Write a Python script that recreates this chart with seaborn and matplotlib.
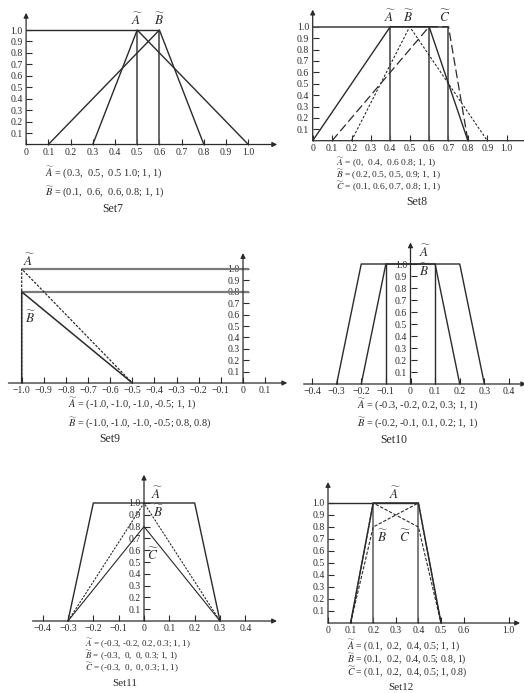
import numpy as np
import matplotlib
matplotlib.use("Agg")
import matplotlib.pyplot as plt
import seaborn as sns

# ---- trapezoidal fuzzy numbers (a1, a2, a3, a4) and heights (h_left, h_right) ----
set7_A, set7_A_h = [0.3, 0.5, 0.5, 1.0], [1.0, 1.0]
set7_B, set7_B_h = [0.1, 0.6, 0.6, 0.8], [1.0, 1.0]

set8_A, set8_A_h = [0.0, 0.4, 0.6, 0.8], [1.0, 1.0]
set8_B, set8_B_h = [0.2, 0.5, 0.5, 0.9], [1.0, 1.0]
set8_C, set8_C_h = [0.1, 0.6, 0.7, 0.8], [1.0, 1.0]

set9_A, set9_A_h = [-1.0, -1.0, -1.0, -0.5], [1.0, 1.0]
set9_B, set9_B_h = [-1.0, -1.0, -1.0, -0.5], [0.8, 0.8]

set10_A, set10_A_h = [-0.3, -0.2, 0.2, 0.3], [1.0, 1.0]
set10_B, set10_B_h = [-0.2, -0.1, 0.1, 0.2], [1.0, 1.0]

set11_A, set11_A_h = [-0.3, -0.2, 0.2, 0.3], [1.0, 1.0]
set11_B, set11_B_h = [-0.3, 0.0, 0.0, 0.3], [1.0, 1.0]
set11_C, set11_C_h = [-0.3, 0.0, 0.0, 0.3], [0.8, 0.8]

set12_A, set12_A_h = [0.1, 0.2, 0.4, 0.5], [1.0, 1.0]
set12_B, set12_B_h = [0.1, 0.2, 0.4, 0.5], [0.8, 1.0]
set12_C, set12_C_h = [0.1, 0.2, 0.4, 0.5], [1.0, 0.8]

# ---- tick values and labels ----
y_ticks = [0.1, 0.2, 0.3, 0.4, 0.5, 0.6, 0.7, 0.8, 0.9, 1.0]
y_labels = ["0.1", "0.2", "0.3", "0.4", "0.5", "0.6", "0.7", "0.8", "0.9", "1.0"]
x_ticks_pos = [0, 0.1, 0.2, 0.3, 0.4, 0.5, 0.6, 0.7, 0.8, 0.9, 1.0]
x_labels_pos = ["0", "0.1", "0.2", "0.3", "0.4", "0.5", "0.6", "0.7", "0.8", "0.9", "1.0"]
x_ticks_set9 = [-1.0, -0.9, -0.8, -0.7, -0.6, -0.5, -0.4, -0.3, -0.2, -0.1, 0, 0.1]
x_labels_set9 = ["\u22121.0", "\u22120.9", "\u22120.8", "\u22120.7", "\u22120.6", "\u22120.5",
                 "\u22120.4", "\u22120.3", "\u22120.2", "\u22120.1", "0", "0.1"]
x_ticks_sym = [-0.4, -0.3, -0.2, -0.1, 0, 0.1, 0.2, 0.3, 0.4]
x_labels_sym = ["\u22120.4", "\u22120.3", "\u22120.2", "\u22120.1", "0", "0.1", "0.2", "0.3", "0.4"]
x_ticks_set12 = [0, 0.1, 0.2, 0.3, 0.4, 0.5, 0.6, 1.0]
x_labels_set12 = ["0", "0.1", "0.2", "0.3", "0.4", "0.5", "0.6", "1.0"]

sns.set_theme(style="white")
plt.rcParams["font.family"] = ["Liberation Serif", "DejaVu Serif"]
plt.rcParams["mathtext.fontset"] = "stix"

W, H = 524, 693
fig = plt.figure(figsize=(W / 100, H / 100), dpi=100)
fig.patch.set_facecolor("white")

INK = "#2b2b2b"
GREY = "#5a5a5a"


def fpos(x, y):
    return x / W, 1 - y / H


def make_ax(xa, xb, pa, pb, y0, y1, xlim, ylim, fwd=None, inv=None):
    f = (lambda v: float(fwd(np.asarray(v)))) if fwd else (lambda v: v)
    s = (pb - pa) / (f(xb) - f(xa))
    left = pa + (f(xlim[0]) - f(xa)) * s
    right = pa + (f(xlim[1]) - f(xa)) * s
    sy = y0 - y1
    top = y0 - ylim[1] * sy
    bottom = y0 - ylim[0] * sy
    ax = fig.add_axes([left / W, 1 - bottom / H, (right - left) / W, (bottom - top) / H])
    if fwd is not None:
        ax.set_xscale("function", functions=(fwd, inv))
    ax.set_xlim(xlim)
    ax.set_ylim(ylim)
    ax.patch.set_visible(False)
    for sp in ("left", "bottom"):
        ax.spines[sp].set_position(("data", 0))
    for sp in ax.spines.values():
        sp.set_visible(False)
    ax.xaxis.set_ticks_position("bottom")
    ax.yaxis.set_ticks_position("left")
    ax.tick_params(direction="in", length=4.5, width=0.8, color=INK,
                   labelsize=7, labelcolor=INK, pad=2.5)
    ax.grid(False)
    # axis lines with arrow heads
    arrow = dict(arrowstyle="-|>", color=INK, lw=0.9, shrinkA=0, shrinkB=0,
                 mutation_scale=7)
    ax.annotate("", xy=(xlim[1], 0), xytext=(xlim[0], 0), arrowprops=arrow,
                annotation_clip=False)
    ax.annotate("", xy=(0, ylim[1]), xytext=(0, 0), arrowprops=arrow,
                annotation_clip=False)
    return ax


def trap(ax, a, h, **kw):
    xs = [a[0], a[1], a[2], a[3]]
    ys = [0, h[0], h[1], 0]
    sns.lineplot(x=xs, y=ys, sort=False, estimator=None, ax=ax, **kw)


def set_ticks(ax, xt, xl, yt=y_ticks, yl=y_labels):
    ax.set_xticks(xt)
    ax.set_xticklabels(xl)
    ax.set_yticks(yt)
    ax.set_yticklabels(yl)
    ax.set_xlabel("")
    ax.set_ylabel("")


def label(x, y, s, size=9, ha="center", **kw):
    fig.text(*fpos(x, y), s, fontsize=size, ha=ha, va="center", color=INK, **kw)


TA, TB, TC = r"$\widetilde{A}$", r"$\widetilde{B}$", r"$\widetilde{C}$"

# ---------------- Set7 ----------------
ax = make_ax(0.0, 1.0, 26.1, 248.3, 144.5, 30.0, (0.0, 1.13), (-0.01, 1.15))
ax.hlines(1.0, 0, max(set7_A[2], set7_B[2]), color=INK, lw=1.0)
ax.vlines([set7_A[1], set7_B[1]], 0, 1.0, color=GREY, lw=1.3)
trap(ax, set7_A, set7_A_h, color=INK, lw=1.0)
trap(ax, set7_B, set7_B_h, color=INK, lw=1.0)
set_ticks(ax, x_ticks_pos, x_labels_pos)
label(137, 20, TA, 9.5)
label(160, 20, TB, 9.5)
label(45, 173, TA + " = (0.3,  0.5,  0.5 1.0; 1, 1)", 7.5, "left")
label(45, 192, TB + " = (0.1,  0.6,  0.6, 0.8; 1, 1)", 7.5, "left")
label(113, 209, "Set7", 8.5)

# ---------------- Set8 ----------------
ax = make_ax(0.0, 1.0, 312.7, 506.7, 140.7, 26.7, (0.0, 1.13), (-0.01, 1.15))
ax.hlines(1.0, 0, max(set8_A[2], set8_C[2]), color=GREY, lw=1.3)
ax.vlines([set8_A[1], set8_A[2], set8_C[2]], 0, 1.0, color=GREY, lw=1.3)
trap(ax, set8_A, set8_A_h, color=INK, lw=1.0)
trap(ax, set8_B, set8_B_h, color=INK, lw=0.8, linestyle=(0, (2.2, 1.6)))
trap(ax, set8_C, set8_C_h, color=INK, lw=0.9, linestyle=(0, (7, 3)))
set_ticks(ax, x_ticks_pos, x_labels_pos)
label(390, 17, TA, 9.5)
label(409, 17, TB, 9.5)
label(445, 17, TC, 9.5)
label(336, 175, "\n".join([
    TA + " = (0,  0.4,  0.6 0.8; 1, 1)",
    TB + " = (0.2, 0.5, 0.5, 0.9; 1, 1)",
    TC + " = (0.1, 0.6, 0.7, 0.8; 1, 1)"]), 6.8, "left", linespacing=0.8)
label(417, 202, "Set8", 8.5)

# ---------------- Set9 ----------------
ax = make_ax(-1.0, 0.0, 21.7, 243.0, 383.0, 269.0, (-1.06, 0.2), (-0.01, 1.14))
for h in (set9_A_h[0], set9_B_h[0]):
    ax.hlines(h, set9_A[0], 0.025, color="#7a7a7a", lw=1.6)
trap(ax, set9_A, set9_A_h, color=INK, lw=0.9, linestyle=(0, (2, 1.2)))
trap(ax, set9_B, set9_B_h, color=INK, lw=1.1)
set_ticks(ax, x_ticks_set9, x_labels_set9)
label(29, 261, TA, 9.5)
label(31, 318, TB, 9.5)
label(68, 404, TA + " = (-1.0, -1.0, -1.0, -0.5; 1, 1)", 7.5, "left")
label(68, 423, TB + " = (-1.0, -1.0, -1.0, -0.5; 0.8, 0.8)", 7.5, "left")
label(110, 439, "Set9", 8.5)

# ---------------- Set10 ----------------
ax = make_ax(-0.4, 0.4, 312.0, 509.0, 384.0, 264.0, (-0.434, 0.47), (-0.01, 1.18))
ax.vlines([set10_B[1], set10_B[2]], 0, 1.0, color=INK, lw=1.0)
trap(ax, set10_A, set10_A_h, color=INK, lw=1.0)
trap(ax, set10_B, set10_B_h, color=INK, lw=1.0)
set_ticks(ax, x_ticks_sym, x_labels_sym)
label(425, 252, TA, 9.5)
label(425, 271, TB, 9.5)
label(357, 405, TA + " = (-0.3, -0.2, 0.2, 0.3; 1, 1)", 7.5, "left")
label(357, 423, TB + " = (-0.2, -0.1, 0.1, 0.2; 1, 1)", 7.5, "left")
label(394, 440, "Set10", 8.5)

# ---------------- Set11 ----------------
ax = make_ax(-0.3, 0.3, 68.0, 220.0, 621.0, 503.0, (-0.44, 0.525), (-0.01, 1.24))
trap(ax, set11_A, set11_A_h, color=INK, lw=1.0)
trap(ax, set11_B, set11_B_h, color=INK, lw=0.8, linestyle=(0, (2, 1.2)))
trap(ax, set11_C, set11_C_h, color=INK, lw=0.8)
set_ticks(ax, x_ticks_sym, x_labels_sym)
label(157, 494, TA, 9.5)
label(159, 512, TB, 9.5)
label(153, 555, TC, 9.5)
label(85, 656, "\n".join([
    TA + " = (-0.3, -0.2, 0.2, 0.3; 1, 1)",
    TB + " = (-0.3,  0,  0, 0.3; 1, 1)",
    TC + " = (-0.3,  0,  0, 0.3; 1, 1)"]), 6.5, "left", linespacing=0.78)
label(125, 684, "Set11", 8)


# ---------------- Set12 (axis compressed beyond 0.6) ----------------
def brk_fwd(x):
    x = np.asarray(x, dtype=float)
    return np.where(x <= 0.6, x, 0.6 + (x - 0.6) * 0.5)


def brk_inv(x):
    x = np.asarray(x, dtype=float)
    return np.where(x <= 0.6, x, 0.6 + (x - 0.6) * 2.0)


ax = make_ax(0.0, 0.5, 328.0, 441.0, 623.0, 503.0, (0.0, 1.1), (-0.01, 1.175),
             fwd=brk_fwd, inv=brk_inv)
ax.hlines(1.0, 0, set12_A[2], color=INK, lw=1.0)
ax.vlines([set12_A[1], set12_A[2]], 0, 1.0, color=GREY, lw=1.1)
trap(ax, set12_B, set12_B_h, color=INK, lw=0.8, linestyle=(0, (3, 1.5)))
trap(ax, set12_C, set12_C_h, color=INK, lw=0.8, linestyle=(0, (3, 1.5)))
trap(ax, set12_A, set12_A_h, color=INK, lw=1.1)
set_ticks(ax, x_ticks_set12, x_labels_set12)
label(395, 494, TA, 9.5)
label(383, 537, TB, 9.5)
label(405, 537, TC, 9.5)
label(347, 659, "\n".join([
    TA + " = (0.1,  0.2,  0.4, 0.5; 1, 1)",
    TB + " = (0.1,  0.2,  0.4, 0.5; 0.8, 1)",
    TC + " = (0.1,  0.2,  0.4, 0.5; 1, 0.8)"]), 7, "left", linespacing=0.78)
label(401, 687, "Set12", 8)

fig.savefig("out.png", dpi=100)
